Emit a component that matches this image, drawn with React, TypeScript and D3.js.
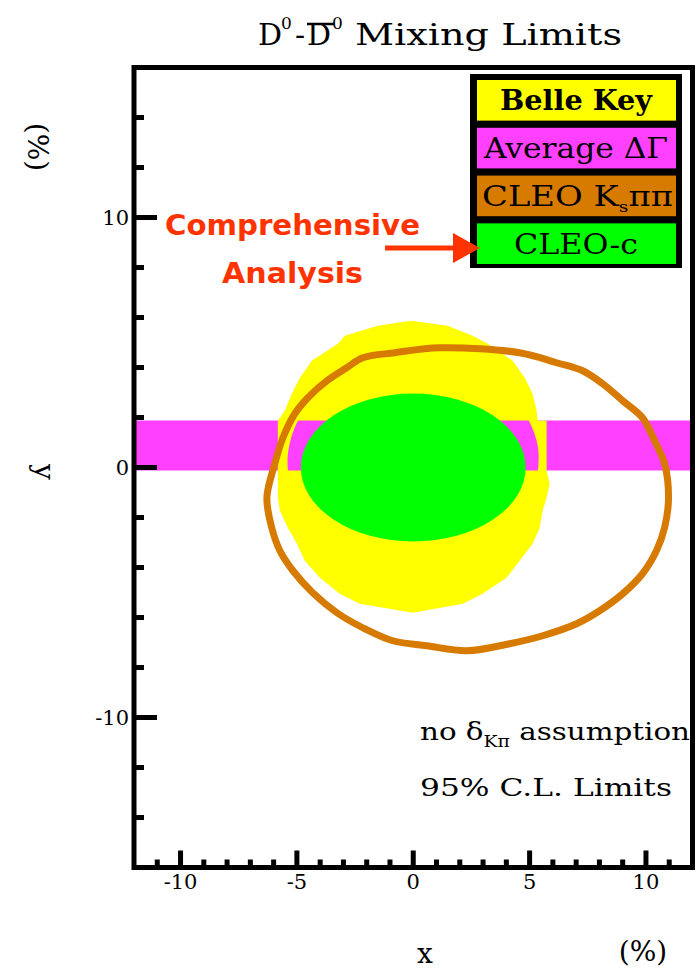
import React from 'react';
import * as d3 from 'd3';

// axis ranges (%) and labelled ticks
const X_DOMAIN = [-12, 12];
const Y_DOMAIN = [-16, 16];
const X_MAJOR = [-10, -5, 0, 5, 10];
const Y_MAJOR = [-10, 0, 10];

// legend
const LEGEND_NAMES = ['Belle Key', 'Average ΔΓ', 'CLEO Ksππ', 'CLEO-c'];
const LEGEND_COLORS = ['#FFFF00', '#FF40FF', '#D77A00', '#00FF00'];

// Average ΔΓ band in y (%)
const BAND_Y = [-0.12, 1.88];

// Belle Kπ region: outer contour (x, y in %)
const BELLE_OUTER: [number, number][] = [
  [-0.11, 5.87], [1.48, 5.67], [2.55, 5.27], [3.2, 4.95], [4.27, 4.27], [4.79, 3.59],
  [5.13, 2.95], [5.3, 2.27], [5.35, 1.88], [5.73, 1.87], [5.73, -0.13], [5.86, -0.65], [5.73, -1.21],
  [5.56, -1.73], [5.43, -2.41], [5.13, -3.05], [4.57, -3.73], [4.01, -4.41], [2.98, -5.05],
  [2.13, -5.45], [-0.02, -5.81], [-2.3, -5.45], [-3.16, -5.05], [-4.01, -4.41], [-4.66, -3.73],
  [-5.0, -3.05], [-5.39, -2.41], [-5.73, -1.73], [-5.82, -1.21], [-5.82, -0.13], [-5.82, 1.87],
  [-5.52, 2.27], [-5.22, 2.95], [-4.87, 3.59], [-4.36, 4.27], [-3.24, 4.95], [-2.94, 5.27],
  [-1.52, 5.67],
];
// Belle Kπ inner (excluded) contour
const BELLE_INNER: [number, number][] = [
  [0, 4.2], [3.0, 3.5], [4.6, 2.4], [5.32, 1.0], [5.35, -0.2], [5.0, -1.5], [3.5, -2.6],
  [0, -3.0], [-3.5, -2.6], [-5.0, -1.5], [-5.38, -0.2], [-5.3, 1.0], [-4.6, 2.4], [-3.0, 3.5],
];

// CLEO-c ellipse (centre, half axes in %)
const CLEOC_CENTER = [0, 0.0];
const CLEOC_RADII = [4.83, 2.96];

// CLEO Ksππ contour
const CLEO_KSPP: [number, number][] = [
  [1.14, 4.79], [-0.79, 4.59], [-2.17, 4.39], [-2.86, 3.99], [-3.71, 3.47], [-4.53, 2.79],
  [-5.09, 2.15], [-5.6, 1.19], [-5.95, 0.15], [-6.29, -1.21], [-6.08, -2.41], [-5.73, -3.33],
  [-5.17, -4.13], [-4.32, -5.01], [-3.28, -5.81], [-2.17, -6.41], [-0.88, -6.93], [0.58, -7.13],
  [2.3, -7.33], [4.14, -7.05], [5.56, -6.73], [7.02, -6.25], [8.01, -5.73], [9.0, -5.05],
  [9.85, -4.25], [10.45, -3.33], [10.8, -2.41], [10.97, -1.21], [10.8, 0.15], [10.37, 1.07],
  [9.85, 1.99], [9.0, 2.67], [8.14, 3.35], [7.28, 3.87], [6.16, 4.19], [4.57, 4.59],
];

const W = 696;
const H = 969;
const SERIF = '"DejaVu Serif", "Liberation Serif", serif';
const RED = '#FF3300';

export default function App() {
  const x = d3.scaleLinear().domain(X_DOMAIN).range([134, 692.5]);
  const y = d3.scaleLinear().domain(Y_DOMAIN).range([867.5, 67.5]);

  const smooth = d3
    .line<[number, number]>()
    .x((d) => x(d[0]))
    .y((d) => y(d[1]))
    .curve(d3.curveCatmullRomClosed.alpha(0.5));
  const straight = d3
    .line<[number, number]>()
    .x((d) => x(d[0]))
    .y((d) => y(d[1]))
    .curve(d3.curveLinearClosed);

  const xMinor = x.ticks(24).filter((t) => t > X_DOMAIN[0] && t < X_DOMAIN[1] && !X_MAJOR.includes(t));
  const yMinor = y.ticks(16).filter((t) => t > Y_DOMAIN[0] && t < Y_DOMAIN[1] && !Y_MAJOR.includes(t));

  const legendY = d3.scaleBand<string>().domain(LEGEND_NAMES).range([80, 264]).paddingInner(0.15);

  const band = (
    <rect
      x={x(X_DOMAIN[0])}
      y={y(BAND_Y[1])}
      width={x(X_DOMAIN[1]) - x(X_DOMAIN[0])}
      height={y(BAND_Y[0]) - y(BAND_Y[1])}
      fill={LEGEND_COLORS[1]}
    />
  );

  return (
    <svg width={W} height={H} style={{ position: 'absolute', left: 0, top: 0, background: '#fff' }}>
      <defs>
        <clipPath id="plot">
          <rect x={x(X_DOMAIN[0])} y={y(Y_DOMAIN[1])} width={x(X_DOMAIN[1]) - x(X_DOMAIN[0])} height={y(Y_DOMAIN[0]) - y(Y_DOMAIN[1])} />
        </clipPath>
        <clipPath id="hole">
          <path d={smooth(BELLE_INNER) || ''} />
        </clipPath>
      </defs>

      {/* title */}
      <g fontFamily={SERIF} fill="#000">
        <text x={258} y={45} fontSize={30}>D</text>
        <text x={281} y={29} fontSize={17}>0</text>
        <text x={295} y={45} fontSize={30}>-</text>
        <text x={307} y={45} fontSize={30}>D</text>
        <text x={332} y={29} fontSize={17}>0</text>
        <line x1={307} x2={334} y1={24} y2={24} stroke="#000" strokeWidth={2.5} />
        <text x={355} y={45} fontSize={30} textLength={267} lengthAdjust="spacingAndGlyphs">Mixing Limits</text>
      </g>

      <g clipPath="url(#plot)">
        {band}
        <path d={straight(BELLE_OUTER) || ''} fill={LEGEND_COLORS[0]} />
        <g clipPath="url(#hole)">{band}</g>
        <ellipse
          cx={x(CLEOC_CENTER[0])}
          cy={y(CLEOC_CENTER[1])}
          rx={x(CLEOC_RADII[0]) - x(0)}
          ry={y(0) - y(CLEOC_RADII[1])}
          fill={LEGEND_COLORS[3]}
        />
        <path d={smooth(CLEO_KSPP) || ''} fill="none" stroke={LEGEND_COLORS[2]} strokeWidth={7} />
      </g>

      {/* legend */}
      <rect x={470} y={74} width={212} height={194} fill="#000" />
      {LEGEND_NAMES.map((name, i) => {
        const top = legendY(name) as number;
        const bw = legendY.bandwidth();
        const cy = top + bw / 2;
        return (
          <g key={name}>
            <rect x={477} y={top} width={199} height={bw} fill={LEGEND_COLORS[i]} />
            {i === 2 ? (
              <text x={482} y={cy + 10} fontFamily={SERIF} fontSize={27} textLength={191} lengthAdjust="spacingAndGlyphs">
                CLEO K<tspan fontSize={15} dy={6}>s</tspan>
                <tspan dy={-6}>ππ</tspan>
              </text>
            ) : (
              <text
                x={576}
                y={cy + 10}
                textAnchor="middle"
                fontFamily={SERIF}
                fontSize={27}
                fontWeight={i === 0 ? 'bold' : 'normal'}
                textLength={i === 0 ? 152 : i === 1 ? 184 : 124}
                lengthAdjust="spacingAndGlyphs"
              >
                {name}
              </text>
            )}
          </g>
        );
      })}

      {/* annotation */}
      <g fontFamily='"DejaVu Sans", "Noto Sans", sans-serif' fontWeight="bold" fill={RED}>
        <text x={165} y={235} fontSize={29} textLength={255} lengthAdjust="spacingAndGlyphs">Comprehensive</text>
        <text x={222} y={283} fontSize={29} textLength={141} lengthAdjust="spacingAndGlyphs">Analysis</text>
      </g>
      <line x1={385} x2={456} y1={248} y2={248} stroke={RED} strokeWidth={5} />
      <polygon points="453,233 480,248 453,263" fill={RED} />

      {/* inset text */}
      <g fontFamily={SERIF} fill="#000">
        <text x={420} y={740} fontSize={25} textLength={270} lengthAdjust="spacingAndGlyphs">
          no δ<tspan fontSize={16} dy={7}>Kπ</tspan>
          <tspan dy={-7}> assumption</tspan>
        </text>
        <text x={420} y={796} fontSize={25} textLength={252} lengthAdjust="spacingAndGlyphs">95% C.L. Limits</text>
      </g>

      {/* frame */}
      <rect
        x={x(X_DOMAIN[0])}
        y={y(Y_DOMAIN[1])}
        width={x(X_DOMAIN[1]) - x(X_DOMAIN[0])}
        height={y(Y_DOMAIN[0]) - y(Y_DOMAIN[1])}
        fill="none"
        stroke="#000"
        strokeWidth={5}
      />
      <g stroke="#000" strokeWidth={5}>
        {Y_MAJOR.map((t) => (
          <line key={'ym' + t} x1={x(X_DOMAIN[0])} x2={x(X_DOMAIN[0]) + 23} y1={y(t)} y2={y(t)} />
        ))}
        {yMinor.map((t) => (
          <line key={'yn' + t} x1={x(X_DOMAIN[0])} x2={x(X_DOMAIN[0]) + 10} y1={y(t)} y2={y(t)} />
        ))}
        {X_MAJOR.map((t) => (
          <line key={'xm' + t} x1={x(t)} x2={x(t)} y1={y(Y_DOMAIN[0])} y2={y(Y_DOMAIN[0]) - 17} />
        ))}
        {xMinor.map((t) => (
          <line key={'xn' + t} x1={x(t)} x2={x(t)} y1={y(Y_DOMAIN[0])} y2={y(Y_DOMAIN[0]) - 8} />
        ))}
      </g>

      {/* tick labels */}
      <g fontFamily={SERIF} fontSize={21} fill="#000">
        {Y_MAJOR.map((t) => (
          <text key={'yl' + t} x={129} y={y(t)} textAnchor="end" dominantBaseline="central">
            {String(t)}
          </text>
        ))}
        {X_MAJOR.map((t) => (
          <text key={'xl' + t} x={x(t)} y={882} textAnchor="middle" dominantBaseline="central">
            {String(t)}
          </text>
        ))}
      </g>

      {/* axis titles */}
      <g fontFamily={SERIF} fontSize={28} fill="#000">
        <text x={425} y={953} textAnchor="middle" dominantBaseline="central">x</text>
        <text x={643} y={951} textAnchor="middle" dominantBaseline="central">(%)</text>
        <text transform="translate(44,472) rotate(90)" textAnchor="middle" dominantBaseline="central">y</text>
        <text transform="translate(37,147) rotate(90)" textAnchor="middle" dominantBaseline="central">(%)</text>
      </g>
    </svg>
  );
}
